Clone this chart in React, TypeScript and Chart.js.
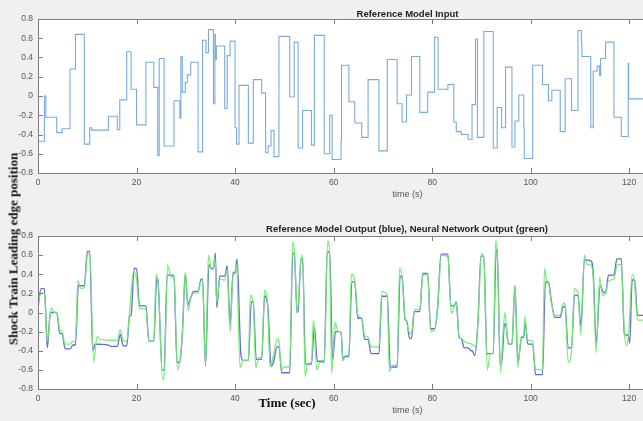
import React, { useEffect, useRef } from "react";
import { Chart, registerables } from "chart.js";

Chart.register(...registerables);

const X_MAX = 122.8;
const xTickValues = [0, 20, 40, 60, 80, 100, 120];
const yTickValues = [-0.8, -0.6, -0.4, -0.2, 0, 0.2, 0.4, 0.6, 0.8];

const topTitle = "Reference Model Input";
const bottomTitle = "Reference Model Output (blue), Neural Network Output (green)";
const axisXLabel = "time (s)";
const figureYLabel = "Shock Train Leading edge position";
const figureXLabel = "Time (sec)";

// Reference model input: switch times and levels held from that time on
const inputTimes = [0, 1.3, 1.6, 3.8, 4.9, 6.5, 7.6, 9.4, 10.5, 10.9, 14.3, 16.1, 16.6, 18.0, 18.9, 20.0, 21.9, 23.5, 24.3, 24.6, 25.6, 27.6, 28.8, 29.0, 29.3, 29.9, 30.3, 31.0, 32.5, 33.4, 34.1, 34.6, 35.6, 35.9, 36.0, 36.2, 37.9, 38.4, 39.0, 40.0, 40.3, 40.8, 42.7, 43.7, 45.4, 46.2, 46.7, 47.3, 47.9, 48.9, 51.1, 52.0, 52.8, 53.7, 55.5, 56.1, 58.1, 59.2, 59.7, 61.5, 61.6, 63.1, 64.3, 65.7, 67.0, 69.2, 70.9, 72.9, 73.9, 74.8, 75.8, 77.5, 79.1, 80.5, 81.2, 83.2, 84.4, 84.9, 85.9, 87.3, 88.1, 88.8, 89.2, 90.5, 92.4, 93.2, 94.1, 94.9, 96.2, 96.8, 97.6, 98.6, 98.7, 100.4, 102.4, 103.6, 104.3, 106.0, 107.0, 108.3, 109.6, 110.3, 110.4, 112.2, 112.7, 113.5, 114.0, 114.2, 115.2, 116.9, 118.4, 119.8, 119.9, 121.1, 122.8];
const inputLevels = [0.25, -0.47, 0, -0.22, -0.38, -0.34, 0.28, 0.64, -0.5, -0.33, -0.355, -0.21, -0.35, -0.04, 0.46, 0.07, -0.3, 0.35, 0.09, -0.62, 0.39, -0.52, -0.05, -0.23, 0.41, 0.04, 0.14, 0.22, 0.35, -0.58, 0.58, 0.45, 0.69, -0.08, 0.64, 0.38, 0.52, -0.13, 0.42, 0.57, -0.33, -0.5, 0.11, -0.49, 0.17, 0.03, -0.59, -0.52, -0.36, -0.63, 0.62, -0.01, 0.56, -0.54, -0.15, -0.51, 0.63, -0.6, -0.2, -0.66, -0.46, 0.32, -0.06, -0.28, -0.43, 0.17, -0.57, 0.38, -0.08, -0.27, 0.01, 0.41, -0.17, 0.04, 0.61, 0.07, 0.12, -0.27, -0.37, -0.4, -0.45, -0.09, 0.59, -0.43, 0.67, -0.54, -0.12, -0.33, 0.3, -0.53, -0.26, 0.01, -0.33, -0.65, 0.32, 0.12, -0.05, 0.06, -0.37, 0.18, -0.15, 0.68, 0.54, 0.41, -0.33, 0.26, 0.31, 0.21, 0.39, 0.56, -0.22, -0.42, 0.34, -0.03, -0.03];

// Reference model output (blue)
const blueTimes = [0, 0.6, 1.3, 1.9, 2.5, 3.8, 4.4, 4.9, 5.5, 6.5, 7.1, 7.6, 8.2, 9.4, 10.0, 10.5, 11.1, 11.6, 14.3, 14.9, 16.1, 16.7, 17.3, 18.0, 18.6, 18.9, 19.5, 20.0, 20.6, 21.9, 22.5, 23.5, 24.1, 24.4, 25.2, 25.6, 26.2, 27.6, 28.2, 28.8, 29.3, 29.9, 30.4, 30.9, 31.6, 32.5, 33.1, 33.4, 34.0, 34.7, 35.2, 35.6, 36.0, 36.3, 36.9, 37.9, 38.4, 39.0, 39.6, 40.0, 40.4, 41.2, 41.6, 42.7, 43.3, 43.7, 44.3, 45.4, 46.0, 46.7, 47.3, 47.8, 48.5, 48.9, 49.5, 51.1, 51.7, 52.0, 52.6, 52.8, 53.4, 53.7, 54.3, 55.5, 56.1, 56.7, 58.1, 58.7, 59.2, 59.8, 60.4, 61.5, 61.9, 62.2, 63.1, 63.7, 64.3, 64.9, 65.7, 66.3, 67.0, 67.6, 69.2, 69.8, 70.9, 71.5, 72.9, 73.5, 73.9, 74.5, 74.8, 75.4, 75.8, 76.4, 77.5, 78.1, 79.1, 79.7, 80.5, 81.1, 81.8, 83.2, 83.8, 84.4, 84.9, 85.5, 85.9, 86.5, 87.3, 87.9, 88.1, 88.7, 89.3, 89.9, 90.5, 91.1, 92.4, 93.0, 93.2, 93.8, 94.1, 94.7, 94.9, 95.5, 96.2, 96.8, 97.4, 98.2, 98.6, 98.9, 99.4, 100.4, 101.0, 102.4, 103.0, 103.6, 104.2, 104.9, 106.0, 106.6, 107.0, 107.6, 108.3, 108.9, 109.6, 110.2, 110.9, 112.2, 112.7, 113.3, 114.1, 114.8, 115.2, 115.8, 116.9, 117.5, 118.4, 119.0, 119.8, 120.1, 120.6, 121.1, 121.7, 122.8];
const blueValues = [0.05, 0.25, 0.25, -0.37, 0, 0, -0.22, -0.22, -0.38, -0.38, -0.34, -0.34, 0.28, 0.28, 0.64, 0.64, -0.4, -0.33, -0.34, -0.355, -0.355, -0.23, -0.35, -0.35, -0.04, -0.03, 0.46, 0.46, 0.07, 0.07, -0.3, -0.3, 0.36, 0.3, -0.6, -0.6, 0.39, 0.39, -0.52, -0.52, -0.22, 0.4, 0.08, 0.14, 0.22, 0.22, 0.35, 0.35, -0.56, 0.5, 0.46, 0.46, 0.62, 0.05, 0.38, 0.38, 0.49, -0.12, 0.42, 0.42, 0.56, -0.45, -0.5, -0.5, 0.11, 0.11, -0.49, -0.49, 0.17, 0.03, -0.56, -0.52, -0.36, -0.36, -0.63, -0.63, 0.62, 0.62, 0.0, 0.02, 0.56, 0.56, -0.54, -0.54, -0.15, -0.51, -0.51, 0.63, 0.63, -0.5, -0.2, -0.2, -0.5, -0.46, -0.46, 0.32, 0.32, -0.06, -0.06, -0.28, -0.28, -0.43, -0.43, 0.17, 0.17, -0.57, -0.57, 0.38, 0.38, -0.08, -0.08, -0.27, -0.27, 0.01, 0.01, 0.41, 0.41, -0.17, -0.17, 0.04, 0.61, 0.61, 0.07, 0.07, 0.11, -0.27, -0.27, -0.37, -0.37, -0.4, -0.4, -0.45, -0.1, 0.59, 0.59, -0.43, -0.43, 0.66, 0.66, -0.54, -0.54, -0.12, -0.12, -0.33, -0.33, 0.28, -0.52, -0.26, -0.26, -0.1, -0.33, -0.33, -0.65, -0.65, 0.32, 0.32, 0.12, -0.05, -0.05, 0.06, 0.06, -0.37, -0.37, 0.18, 0.18, -0.15, 0.55, 0.54, 0.42, -0.32, 0.28, 0.21, 0.21, 0.39, 0.39, 0.56, 0.56, -0.22, -0.24, -0.32, 0.34, 0.34, -0.03, -0.03];

// Neural network output (green)
const greenTimes = [0, 0.6, 1.3, 1.9, 2.7, 3.2, 3.8, 4.4, 4.9, 5.5, 6.5, 7.1, 7.6, 8.1, 8.8, 9.4, 10.0, 10.5, 11.3, 12.0, 12.6, 16.1, 16.7, 17.3, 18.0, 18.6, 19.4, 20.0, 20.6, 21.9, 22.5, 23.5, 24.0, 24.4, 25.3, 25.7, 26.3, 27.0, 27.6, 28.3, 28.8, 29.3, 29.9, 30.5, 31.0, 31.6, 32.5, 33.1, 33.4, 34.0, 34.6, 35.2, 35.6, 35.9, 36.3, 36.9, 37.9, 38.4, 39.0, 39.6, 40.0, 40.3, 41.0, 41.6, 42.7, 43.1, 43.7, 44.2, 44.8, 45.4, 46.0, 46.6, 47.1, 47.8, 48.6, 48.9, 49.4, 50.0, 51.1, 51.7, 52.1, 52.6, 53.5, 53.8, 54.2, 54.8, 55.5, 55.9, 56.6, 57.2, 58.1, 58.8, 59.2, 59.6, 60.3, 60.9, 61.5, 61.9, 62.5, 63.1, 63.6, 64.3, 64.9, 65.7, 66.3, 67.0, 67.6, 69.2, 69.8, 70.9, 71.3, 72.0, 72.9, 73.4, 73.9, 74.5, 74.8, 75.3, 75.8, 76.4, 77.5, 78.1, 79.1, 79.7, 80.5, 81.1, 81.9, 83.2, 83.9, 84.4, 84.9, 85.5, 85.9, 86.5, 87.3, 88.0, 88.8, 89.3, 90.0, 90.5, 91.2, 91.8, 92.4, 92.9, 93.3, 93.9, 94.4, 94.8, 95.4, 96.2, 96.8, 97.4, 98.1, 98.6, 98.8, 99.4, 100.4, 100.9, 101.6, 102.4, 102.8, 103.4, 103.6, 104.2, 104.9, 106.0, 106.6, 107.0, 107.6, 108.3, 108.9, 109.6, 110.2, 110.9, 111.5, 112.2, 112.7, 113.3, 114.0, 114.6, 115.2, 115.8, 116.9, 117.6, 118.4, 119.0, 119.5, 119.9, 120.6, 121.1, 121.7, 122.8];
const greenValues = [0.1, 0.2, 0.2, -0.3, 0.05, 0.0, 0.0, -0.18, -0.2, -0.33, -0.33, -0.3, -0.3, 0.33, 0.25, 0.26, 0.6, 0.62, -0.52, -0.25, -0.28, -0.29, -0.18, -0.3, -0.3, 0.02, 0.43, 0.35, 0.04, 0.04, -0.3, -0.3, 0.4, 0.3, -0.7, -0.58, 0.5, 0.37, 0.38, -0.6, -0.5, -0.22, 0.42, 0.02, 0.15, 0.2, 0.21, 0.33, 0.33, -0.55, 0.6, 0.45, 0.46, 0.58, 0.1, 0.35, 0.34, 0.45, -0.2, 0.4, 0.4, 0.5, -0.58, -0.5, -0.5, 0.18, 0.1, -0.58, -0.47, -0.47, 0.23, 0.07, -0.57, -0.45, -0.27, -0.3, -0.6, -0.57, -0.57, 0.74, 0.6, -0.01, 0.6, 0.5, -0.67, -0.53, -0.52, -0.08, -0.6, -0.52, -0.52, 0.75, 0.62, -0.64, -0.1, -0.2, -0.2, -0.5, -0.45, -0.45, 0.4, 0.32, -0.02, -0.06, -0.24, -0.26, -0.36, -0.36, 0.22, 0.18, -0.62, -0.55, -0.55, 0.47, 0.36, -0.05, -0.1, -0.2, -0.22, 0.03, 0.03, 0.38, 0.4, -0.2, -0.18, 0.04, 0.6, 0.58, -0.01, 0.05, 0.1, -0.27, -0.27, -0.3, -0.32, -0.33, -0.36, -0.1, 0.62, 0.55, -0.6, -0.43, -0.43, 0.76, 0.5, -0.63, -0.2, 0.0, -0.33, -0.33, 0.27, -0.57, -0.25, -0.25, -0.04, -0.29, -0.3, -0.58, -0.6, -0.6, 0.46, 0.3, 0.3, 0.1, -0.03, -0.03, 0.1, 0.08, -0.52, -0.4, 0.25, 0.2, -0.23, 0.6, 0.5, 0.5, 0.35, -0.42, 0.37, 0.18, 0.2, 0.33, 0.35, 0.5, 0.5, -0.2, -0.35, -0.2, 0.4, 0.3, -0.08, -0.08];

const toPoints = (xs: number[], ys: number[]) => xs.map((x, i) => ({ x, y: ys[i] }));

const boxPlugin = {
  id: "matlabBox",
  beforeDatasetsDraw(chart: any) {
    const { ctx, chartArea } = chart;
    ctx.save();
    ctx.fillStyle = "#ffffff";
    ctx.fillRect(chartArea.left, chartArea.top, chartArea.right - chartArea.left, chartArea.bottom - chartArea.top);
    ctx.restore();
  },
  afterDatasetsDraw(chart: any) {
    const { ctx, chartArea, scales } = chart;
    const { left, right, top, bottom } = chartArea;
    ctx.save();
    ctx.strokeStyle = "#7d7d7d";
    ctx.lineWidth = 1;
    ctx.beginPath();
    ctx.moveTo(right + 2, top + 0.5);
    ctx.lineTo(left + 0.5, top + 0.5);
    ctx.lineTo(left + 0.5, bottom + 0.5);
    ctx.lineTo(right + 2, bottom + 0.5);
    const tl = 5;
    xTickValues.forEach((v) => {
      const px = Math.round(scales.x.getPixelForValue(v)) + 0.5;
      ctx.moveTo(px, top);
      ctx.lineTo(px, top + tl);
      ctx.moveTo(px, bottom);
      ctx.lineTo(px, bottom - tl);
    });
    yTickValues.forEach((v) => {
      const py = Math.round(scales.y.getPixelForValue(v)) + 0.5;
      ctx.moveTo(left, py);
      ctx.lineTo(left + tl, py);
    });
    ctx.stroke();
    ctx.restore();
  },
};

function makeChart(canvas: HTMLCanvasElement, datasets: any[], padTop: number, xAxisHeight: number) {
  const tickFont = { family: "'Liberation Sans', Arial, sans-serif", size: 8.5 };
  return new Chart(canvas, {
    type: "line",
    data: { datasets },
    plugins: [boxPlugin],
    options: {
      animation: false,
      responsive: false,
      events: [],
      layout: { padding: { top: padTop, left: 0, right: 0, bottom: 0 } },
      plugins: { legend: { display: false }, tooltip: { enabled: false }, title: { display: false } },
      elements: { point: { radius: 0 } },
      scales: {
        x: {
          type: "linear",
          min: 0,
          max: X_MAX,
          grid: { display: false, drawTicks: false },
          border: { display: false },
          afterBuildTicks: (s: any) => {
            s.ticks = xTickValues.map((value) => ({ value }));
          },
          afterFit: (s: any) => {
            s.height = xAxisHeight;
          },
          ticks: { padding: 5, color: "#555555", font: tickFont, maxRotation: 0, autoSkip: false, callback: (v: any) => String(v) },
        },
        y: {
          type: "linear",
          min: -0.8,
          max: 0.8,
          grid: { display: false, drawTicks: false },
          border: { display: false },
          afterBuildTicks: (s: any) => {
            s.ticks = yTickValues.map((value) => ({ value }));
          },
          afterFit: (s: any) => {
            s.width = 38;
          },
          ticks: { padding: 5, color: "#555555", font: tickFont, autoSkip: false, callback: (v: any) => String(Number(Number(v).toFixed(1))) },
        },
      },
    },
  } as any);
}

const textBase: React.CSSProperties = {
  position: "absolute",
  whiteSpace: "nowrap",
  lineHeight: 1,
  transform: "translate(-50%, -50%)",
};

export default function App() {
  const topRef = useRef<HTMLCanvasElement>(null);
  const bottomRef = useRef<HTMLCanvasElement>(null);

  useEffect(() => {
    const top = makeChart(
      topRef.current!,
      [
        {
          data: toPoints(inputTimes, inputLevels),
          stepped: "after",
          borderColor: "rgb(122,170,222)",
          borderWidth: 1.1,
          pointRadius: 0,
          fill: false,
        },
      ],
      19,
      27
    );
    const bottom = makeChart(
      bottomRef.current!,
      [
        {
          data: toPoints(greenTimes, greenValues),
          borderColor: "rgba(110,235,110,0.9)",
          borderWidth: 1.3,
          pointRadius: 0,
          fill: false,
          cubicInterpolationMode: "monotone",
        },
        {
          data: toPoints(blueTimes, blueValues),
          borderColor: "rgba(45,45,205,0.72)",
          borderWidth: 1.3,
          pointRadius: 0,
          fill: false,
          cubicInterpolationMode: "monotone",
        },
      ],
      26,
      32
    );
    return () => {
      top.destroy();
      bottom.destroy();
    };
  }, []);

  const sans = "'Liberation Sans', Arial, sans-serif";
  const serif = "'Liberation Serif', 'Times New Roman', serif";

  return (
    <div style={{ position: "absolute", left: 0, top: 0, width: 643, height: 421, background: "#f0f0f0", overflow: "hidden" }}>
      <canvas ref={topRef} width={643} height={200} style={{ position: "absolute", left: 0, top: 0, width: 643, height: 200 }} />
      <canvas ref={bottomRef} width={643} height={211} style={{ position: "absolute", left: 0, top: 210, width: 643, height: 211 }} />
      <div style={{ ...textBase, left: 407.5, top: 13.5, fontFamily: sans, fontWeight: 700, fontSize: 9.5, color: "#222" }}>{topTitle}</div>
      <div style={{ ...textBase, left: 407, top: 229, fontFamily: sans, fontWeight: 700, fontSize: 9.5, color: "#222" }}>{bottomTitle}</div>
      <div style={{ ...textBase, left: 407.5, top: 194, fontFamily: sans, fontSize: 9, color: "#555" }}>{axisXLabel}</div>
      <div style={{ ...textBase, left: 407.5, top: 410, fontFamily: sans, fontSize: 9, color: "#555" }}>{axisXLabel}</div>
      <div style={{ ...textBase, left: 13, top: 249, fontFamily: serif, fontWeight: 700, fontSize: 13, color: "#111", transform: "translate(-50%, -50%) rotate(-90deg)" }}>{figureYLabel}</div>
      <div style={{ ...textBase, left: 287, top: 402, fontFamily: serif, fontWeight: 700, fontSize: 13, color: "#111" }}>{figureXLabel}</div>
    </div>
  );
}
